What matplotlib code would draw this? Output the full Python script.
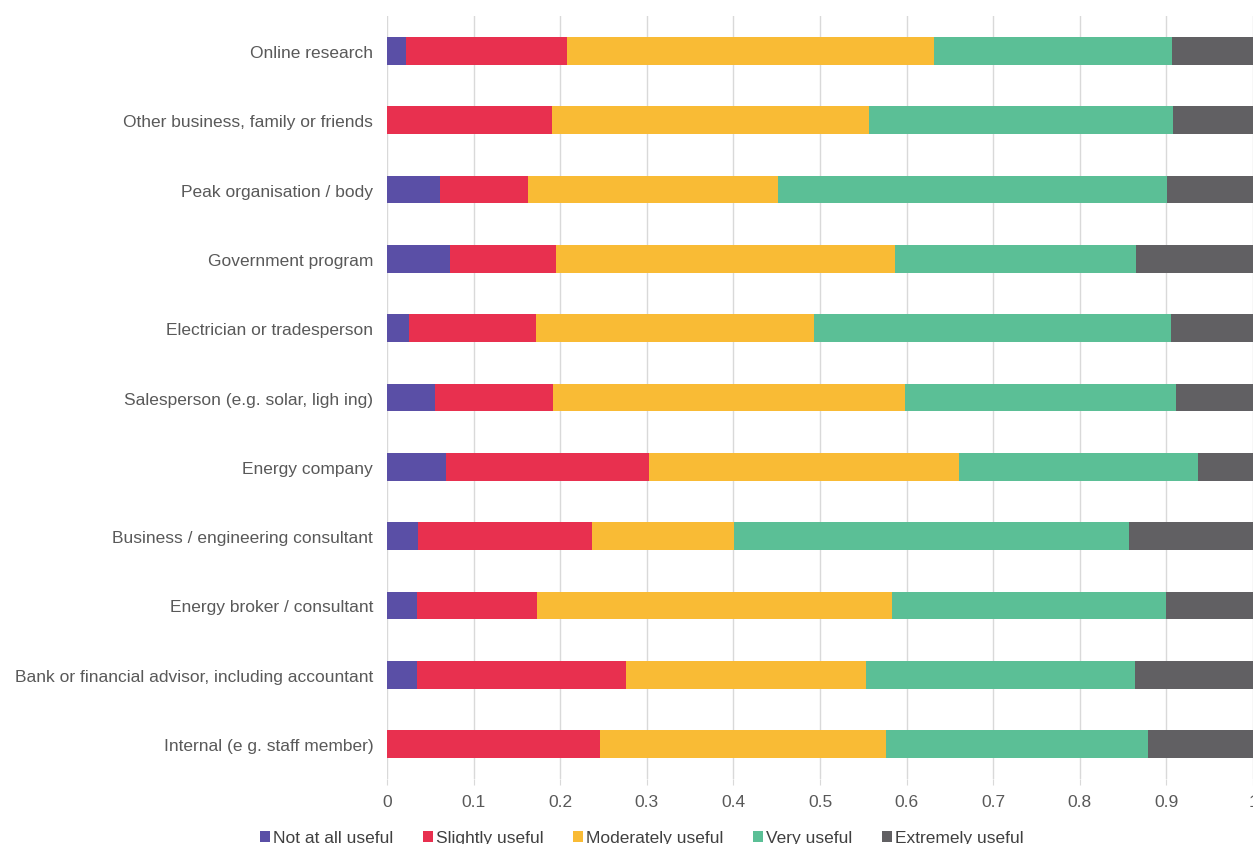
import matplotlib.pyplot as plt
import numpy as np

# usefulness of information sources, share of responses per rating
sources = [
    "Online research",
    "Other business, family or friends",
    "Peak organisation / body",
    "Government program",
    "Electrician or tradesperson",
    "Salesperson (e.g. solar, ligh ing)",
    "Energy company",
    "Business / engineering consultant",
    "Energy broker / consultant",
    "Bank or financial advisor, including accountant",
    "Internal (e g. staff member)",
]
ratings = ["Not at all useful", "Slightly useful", "Moderately useful",
           "Very useful", "Extremely useful"]

not_at_all = [0.022, 0.000, 0.061, 0.073, 0.025, 0.055, 0.068, 0.036, 0.035, 0.035, 0.000]
slightly   = [0.186, 0.191, 0.102, 0.122, 0.147, 0.137, 0.235, 0.201, 0.138, 0.241, 0.246]
moderately = [0.424, 0.366, 0.288, 0.392, 0.321, 0.406, 0.358, 0.164, 0.410, 0.277, 0.330]
very       = [0.275, 0.351, 0.450, 0.278, 0.412, 0.313, 0.275, 0.456, 0.316, 0.311, 0.303]
extremely  = [0.093, 0.092, 0.099, 0.135, 0.095, 0.089, 0.064, 0.143, 0.101, 0.136, 0.121]

colors = ["#5a4fa6", "#e8304f", "#f9bb35", "#5bbf96", "#616063"]

plt.rcParams['font.family'] = ['Liberation Sans', 'DejaVu Sans']

fig = plt.figure(figsize=(12.53, 8.45), dpi=100)
ax = fig.add_axes([0.3089, 0.0774, 0.6911, 0.902])

y = np.arange(len(sources))
left = np.zeros(len(sources))
for name, vals, c in zip(ratings, [not_at_all, slightly, moderately, very, extremely], colors):
    ax.barh(y, vals, left=left, height=0.4, color=c, label=name, zorder=3)
    left += np.array(vals)

ax.set_xlim(0, 1)
ax.set_ylim(len(sources) - 0.5, -0.5)
ax.set_yticks(y)
ax.set_yticklabels(sources, fontsize=12.5, color="#595959")
ax.set_xticks(np.arange(0, 1.01, 0.1))
ax.set_xticklabels(["0", "0.1", "0.2", "0.3", "0.4", "0.5", "0.6", "0.7", "0.8", "0.9", "1"],
                   fontsize=12.5, color="#595959")
ax.grid(axis="x", color="#d9d9d9", linewidth=1, zorder=0)
ax.tick_params(axis="y", length=0, pad=10)
ax.tick_params(axis="x", length=4, color="#d9d9d9", pad=7)
for s in ax.spines.values():
    s.set_visible(False)

fig.legend(loc="lower center", bbox_to_anchor=(0.512, -0.02), ncol=5, frameon=False,
           handlelength=0.6, handleheight=0.6, handletextpad=0.15, columnspacing=1.7,
           prop={'size': 12.5}, labelcolor="#404040")

fig.savefig("out.png", dpi=100)
